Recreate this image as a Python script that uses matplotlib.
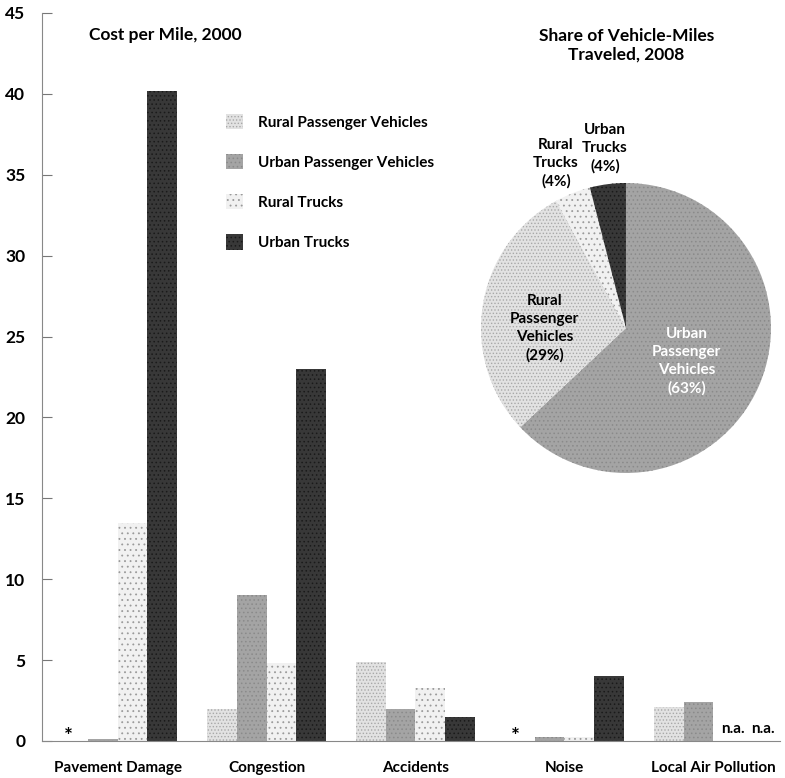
import numpy as np
import matplotlib
matplotlib.use("Agg")
import matplotlib.pyplot as plt
from matplotlib.patches import Patch

plt.rcParams['font.family'] = ['Liberation Sans Narrow', 'Lato', 'DejaVu Sans']
plt.rcParams['font.weight'] = 'bold'
plt.rcParams['hatch.linewidth'] = 0.6

# cost per mile, 2000 (cents)
categories = ['Pavement Damage', 'Congestion', 'Accidents', 'Noise', 'Local Air Pollution']
series = ['Rural Passenger Vehicles', 'Urban Passenger Vehicles', 'Rural Trucks', 'Urban Trucks']
rural_pv = [0.0, 2.0, 4.9, 0.0, 2.1]
urban_pv = [0.15, 9.0, 2.0, 0.25, 2.4]
rural_trucks = [13.5, 4.8, 3.3, 0.25, np.nan]
urban_trucks = [40.2, 23.0, 1.5, 4.0, np.nan]
# markers for missing values: '*' = negligible, 'n.a.' = not available
notes = [('*', 0, 0), ('*', 3, 0), ('n.a.', 4, 2), ('n.a.', 4, 3)]

# share of vehicle-miles traveled, 2008 (%)
pie_labels = ['Urban\nPassenger\nVehicles', 'Rural\nPassenger\nVehicles', 'Rural\nTrucks', 'Urban\nTrucks']
pie_share = [63, 29, 4, 4]

face = ['#e2e2e2', '#a4a4a4', '#f1f1f1', '#383838']
dots = ['#a8a8a8', '#8a8a8a', '#9a9a9a', '#1a1a1a']
hatches = ['.....', '....', '...', '....']

fs = 11

fig = plt.figure(figsize=(7.85, 7.78), dpi=100)
ax = fig.add_axes([0.0535, 0.0476, 0.94, 0.9357])

width = 0.2
x = np.arange(len(categories))
all_vals = [rural_pv, urban_pv, rural_trucks, urban_trucks]
for i, vals in enumerate(all_vals):
    off = (i - 1.5) * width
    v = np.array(vals, dtype=float)
    ax.bar(x + off, np.nan_to_num(v), width, color=face[i], edgecolor=dots[i],
           hatch=hatches[i], linewidth=0, label=series[i])

for txt, g, s in notes:
    if txt == '*':
        ax.text(g + (s - 1.5) * width - 0.03, -0.35, txt, ha='center',
                va='bottom', fontsize=15)
    else:
        ax.text(g + (s - 1.5) * width + 0.03, 0.3, txt, ha='center',
                va='bottom', fontsize=fs)

ax.set_xlim(-0.507, 4.446)
ax.set_ylim(0, 45)
ax.set_yticks(range(0, 46, 5))
ax.set_xticks(x)
ax.set_xticklabels(categories, fontsize=fs)
ax.tick_params(axis='x', length=0, pad=14.5)
ax.tick_params(axis='y', direction='in', length=7, width=0.8, color='#777777',
               labelsize=12.5, pad=12)
for s in ['top', 'right']:
    ax.spines[s].set_visible(False)
ax.spines['left'].set_color('#888888')
ax.spines['left'].set_linewidth(0.8)
ax.spines['bottom'].set_color('#888888')
ax.spines['bottom'].set_linewidth(0.8)

fig.text(0.113, 0.955, 'Cost per Mile, 2000', fontsize=12.5, va='center')
fig.text(0.798, 0.942, 'Share of Vehicle-Miles\nTraveled, 2008', fontsize=12.5,
         ha='center', va='center', linespacing=1.15)

handles = [Patch(facecolor=face[i], edgecolor=dots[i], hatch=hatches[i], linewidth=0)
           for i in range(4)]
fig.legend(handles, series, loc='upper left', bbox_to_anchor=(0.28, 0.8615),
           frameon=False, fontsize=fs, handlelength=1.1, handleheight=1.15,
           handletextpad=1.0, labelspacing=1.6, borderaxespad=0)

# pie of vehicle-miles
pax = fig.add_axes([0.6127, 0.392, 0.3694, 0.3728])
wedges, _ = pax.pie(pie_share, startangle=90, counterclock=False, radius=1,
                    colors=[face[1], face[0], face[2], face[3]],
                    hatch=[hatches[1], hatches[0], hatches[2], hatches[3]],
                    wedgeprops=dict(linewidth=0))
for w, c in zip(wedges, [dots[1], dots[0], dots[2], dots[3]]):
    w.set_edgecolor(c)
pax.set_xlim(-1, 1)
pax.set_ylim(-1, 1)
pax.set_aspect('equal')
pax.axis('off')

pie_pos = [(0.42, -0.23), (-0.56, 0.0), (-0.483, 1.138), (-0.145, 1.241)]
pie_col = ['white', 'black', 'black', 'black']
for lab, share, (px, py), c in zip(pie_labels, pie_share, pie_pos, pie_col):
    pax.text(px, py, f'{lab}\n({share}%)', ha='center', va='center', color=c,
             fontsize=fs, linespacing=1.35, clip_on=False)

fig.savefig('out.png', dpi=100)
